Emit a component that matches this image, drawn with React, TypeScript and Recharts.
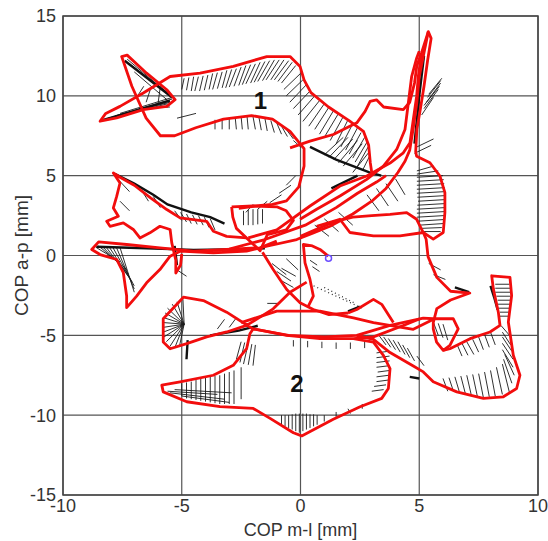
import {
  CartesianGrid,
  ComposedChart,
  Label,
  Line,
  ReferenceArea,
  ReferenceDot,
  XAxis,
  YAxis,
} from "recharts";

type Pt = [number, number];
type Seg = [number, number, number, number];

const xTicks = [-10, -5, 0, 5, 10];
const yTicks = [-15, -10, -5, 0, 5, 10, 15];

// red trajectory pieces (COP, mm)
const loopOne: Pt[] = [
  [-2.6, 2.95], [-1.9, 3.1], [-1.18, 3.2], [-0.59, 3.42], [-0.07, 4.3], [0.15, 5.6],
  [0.15, 6.69], [-0.44, 7.78], [-1.18, 8.54], [-2.06, 8.76], [-3.24, 8.54], [-4.41, 8.0],
  [-5.3, 7.5], [-5.9, 7.5], [-6.5, 8.6], [-7.1, 10.6], [-7.53, 12.46], [-7.3, 12.55],
  [-6.48, 11.42], [-5.63, 10.38], [-5.28, 9.76], [-5.63, 9.34], [-6.62, 9.14], [-7.74, 8.62],
  [-8.44, 8.41], [-8.2, 8.9], [-7.6, 9.34], [-6.62, 10.18], [-5.49, 11.21], [-4.23, 11.42],
  [-2.83, 11.84], [-1.42, 12.46], [-0.44, 12.46], [-0.02, 11.84], [0.15, 11.0], [0.44, 10.2],
  [1.18, 9.3], [2.06, 8.43], [2.65, 7.78], [2.87, 6.9], [2.94, 5.8], [3.0, 5.2],
];
const leftShape: Pt[] = [
  [-2.27, 1.1], [-3.11, 1.2], [-3.67, 1.52], [-3.95, 2.14], [-5.07, 2.36], [-5.63, 2.88],
  [-6.3, 3.6], [-7.0, 4.4], [-7.6, 4.9], [-7.88, 5.17], [-7.6, 4.54], [-7.74, 3.7],
  [-7.88, 2.98], [-7.67, 2.46], [-8.16, 2.14], [-8.02, 1.83], [-7.46, 2.04], [-7.04, 1.63],
  [-6.76, 1.1], [-6.34, 1.42], [-5.92, 1.83], [-5.49, 1.63], [-5.42, 0.79], [-5.25, -0.3],
  [-5.25, -1.1], [-5.05, -0.6], [-5.0, 0.1],
];
const leftLobe: Pt[] = [
  [-1.0, 0.9], [-1.71, 0.48], [-3.11, 0.38], [-4.51, 0.27], [-5.92, 0.48], [-7.32, 0.69],
  [-8.5, 0.85], [-8.79, 0.38], [-8.44, 0.06], [-7.74, -0.25], [-7.46, -1.08], [-7.32, -2.54],
  [-7.32, -3.27], [-6.9, -2.54], [-6.48, -1.71], [-5.92, -0.88], [-5.49, -0.04], [-5.07, 0.27],
  [-3.67, 0.17], [-2.27, 0.27], [-1.42, 0.58], [-0.16, 1.0], [0.54, 1.42], [1.24, 1.83],
  [2.2, 2.6], [3.0, 3.4], [3.6, 4.2], [4.1, 5.2], [4.4, 5.9], [4.6, 6.6], [4.75, 8.0],
  [4.9, 9.6], [5.0, 11.2], [5.2, 12.7], [5.38, 14.02],
];
const spikePath: Pt[] = [
  [-0.44, 6.74], [0.4, 7.16], [1.38, 7.58], [2.37, 8.31], [2.72, 9.03], [2.93, 9.65],
  [3.2, 9.75], [3.5, 9.3], [4.33, 9.14], [4.6, 9.6], [4.8, 10.8], [4.9, 11.9], [5.1, 12.7],
  [5.38, 14.02], [5.5, 13.6], [5.35, 12.2], [5.2, 10.6], [5.05, 9.2], [4.9, 7.9], [4.85, 6.5],
  [4.89, 6.22], [5.45, 5.81], [5.87, 4.98], [6.08, 3.94], [6.08, 2.69], [6.01, 1.44],
  [5.59, 1.03], [5.17, 1.44], [4.89, 2.27], [4.47, 2.69], [3.77, 2.58], [3.0, 2.5],
  [2.2, 2.4], [1.4, 2.1], [0.6, 1.6], [0.0, 1.2],
];
const diagOne: Pt[] = [
  [-0.02, 2.27], [0.68, 2.9], [1.66, 3.73], [2.79, 4.77], [3.49, 5.6], [4.05, 6.64],
  [4.4, 7.89], [4.54, 9.55], [4.68, 11.21], [4.89, 12.36], [5.0, 12.8],
];
const diagTwo: Pt[] = [
  [-2.2, 1.1], [-1.0, 1.6], [0.4, 3.1], [1.66, 4.35], [2.79, 4.98], [3.77, 5.79],
  [4.33, 6.43], [4.61, 7.06], [4.75, 8.52], [4.89, 9.96], [4.96, 11.21], [5.1, 12.67],
];
const diagThree: Pt[] = [
  [-3.0, 0.4], [-1.5, 1.0], [0.2, 1.9], [1.5, 3.0], [2.4, 3.9], [3.2, 4.6], [3.6, 5.0],
];
const fanBase: Pt[] = [
  [0.68, 1.83], [1.66, 2.27], [2.08, 1.44], [3.07, 1.23], [4.19, 1.23], [5.17, 1.44],
  [5.29, 1.02], [5.37, -0.07], [5.74, -1.37], [6.32, -2.24], [7.13, -2.35], [6.32, -2.79],
  [5.74, -3.33], [5.59, -4.2], [5.59, -4.59], [5.73, -5.42], [6.01, -5.94], [6.29, -5.63],
  [6.64, -4.59], [6.43, -3.96], [5.59, -3.96], [5.17, -3.92], [3.77, -4.38], [2.37, -5.0],
  [1.0, -5.1], [-0.5, -5.0], [-2.0, -4.6], [-3.11, -3.55], [-4.09, -2.82], [-4.93, -2.61],
  [-5.78, -3.96], [-5.78, -5.42], [-5.49, -5.84], [-4.79, -5.52], [-3.95, -5.1],
  [-3.11, -4.79], [-2.27, -4.38], [-1.15, -3.34], [-0.44, -2.3], [0.26, -1.67],
];
const loopTwo: Pt[] = [
  [5.03, -3.96], [4.33, -4.38], [3.07, -5.1], [2.23, -5.21], [0.82, -5.21], [-0.58, -5.0],
  [-1.99, -4.59], [-2.13, -4.9], [-2.27, -5.84], [-2.83, -6.88], [-3.67, -7.5], [-5.07, -7.91],
  [-5.84, -8.12], [-5.78, -8.54], [-4.79, -9.16], [-3.39, -9.47], [-1.99, -9.58], [-1.28, -10.2],
  [-0.3, -11.1], [0.05, -11.3], [1.38, -10.25], [2.51, -9.47], [3.42, -8.95], [3.7, -8.33],
  [3.77, -7.08], [3.49, -6.25], [3.07, -5.42], [2.23, -5.21],
];
const hookPath: Pt[] = [
  [2.37, -5.0], [3.07, -5.25], [3.77, -6.08], [4.75, -6.92], [5.17, -7.29], [5.59, -7.91],
  [6.58, -8.54], [7.7, -8.95], [8.54, -8.85], [9.1, -8.33], [9.24, -7.5], [8.96, -6.25],
  [8.75, -4.17], [8.89, -2.51], [8.82, -1.37], [8.05, -1.27], [8.12, -2.09], [8.33, -3.55],
  [8.4, -4.38], [7.98, -4.79], [7.14, -5.21], [6.29, -5.84], [6.01, -5.94],
];
const smallTri: Pt[] = [[2.0, -3.6], [2.37, -3.38], [3.07, -2.75], [3.42, -3.06], [3.91, -4.2]];
const centerLoop: Pt[] = [
  [0.33, -3.17], [0.54, -2.54], [0.4, -1.5], [0.19, -0.46], [0.12, 0.69], [0.5, 0.6],
  [0.82, 0.38], [1.17, -0.04],
];
const centerDrop: Pt[] = [
  [-1.6, 0.2], [-1.15, -0.88], [-0.58, -2.13], [-0.02, -2.96], [0.54, -3.38], [1.2, -3.7],
  [2.0, -3.6],
];
const centerBox: Pt[] = [
  [-2.9, 3.05], [-2.0, 3.1], [-1.0, 3.05], [-0.6, 2.8], [-0.3, 2.2], [-0.6, 1.6], [-1.4, 1.3],
  [-1.7, 0.3], [-2.7, 1.7], [-2.85, 2.4], [-2.9, 3.05],
];
const midLine: Pt[] = [
  [-2.5, -4.2], [-1.0, -3.48], [0.82, -3.48], [2.23, -3.9], [3.07, -4.2], [4.75, -4.62], [5.6, -4.0],
];

// black heavy COP path pieces
const blackPaths: Pt[][] = [
  [[-8.6, 0.55], [-6.5, 0.45], [-4.5, 0.35], [-2.5, 0.4], [-1.5, 0.45]],
  [[-7.8, 5.1], [-7.0, 4.5], [-6.2, 3.8], [-5.6, 3.2], [-4.6, 2.7], [-3.8, 2.4], [-3.2, 2.0]],
  [[0.4, 6.8], [1.5, 6.0], [2.9, 5.2], [3.4, 5.0]],
  [[4.8, 7.0], [5.0, 10.0], [5.2, 12.5]],
  [[-7.4, 12.2], [-5.4, 9.9]],
  [[-8.3, 8.5], [-5.5, 9.7]],
  [[8.0, -1.9], [8.15, -2.6], [8.3, -3.4]],
  [[-4.75, -5.3], [-4.8, -6.5]],
  [[4.6, -7.6], [5.0, -7.7]],
  [[6.5, -2.0], [7.1, -2.3]],
  [[-3.8, -5.0], [-2.6, -4.7], [-1.8, -4.4]],
  [[-5.3, 0.6], [-5.2, -0.6]],
  [[1.3, 4.2], [2.4, 5.0]],
  [[2.0, -3.5], [2.5, -3.2]],
];

// arrow field (start x, start y, end x, end y)
const hatchLoopOne: Seg[] = [
  [-4.9, 11.1, -5.0, 10.4], [-4.5, 11.2, -4.6, 10.3], [-4.1, 11.25, -4.25, 10.3],
  [-3.7, 11.4, -3.85, 10.4], [-3.3, 11.5, -3.5, 10.45], [-2.9, 11.65, -3.15, 10.5],
  [-2.5, 11.8, -2.8, 10.6], [-2.1, 11.95, -2.45, 10.7], [-1.7, 12.1, -2.1, 10.8],
  [-1.3, 12.2, -1.8, 10.9], [-0.9, 12.25, -1.45, 11.0], [-0.5, 12.2, -1.1, 11.0],
  [-0.2, 11.9, -0.8, 10.8], [0.1, 11.0, -0.6, 10.0], [0.4, 10.3, -0.3, 9.2],
  [0.8, 9.7, 0.1, 8.4], [1.2, 9.3, 0.6, 7.9], [1.6, 8.9, 1.0, 7.4], [2.0, 8.5, 1.5, 7.0],
  [2.4, 8.0, 1.9, 6.6], [2.7, 7.4, 2.2, 6.1], [2.85, 6.8, 2.4, 5.6], [2.9, 6.2, 2.6, 5.3],
  [-3.6, 8.5, -3.6, 7.9], [-3.0, 8.6, -3.0, 7.9], [-2.5, 8.7, -2.45, 7.9],
  [-2.0, 8.7, -1.9, 7.9], [-1.5, 8.6, -1.4, 7.8], [-1.0, 8.3, -0.8, 7.6],
  [-0.6, 7.9, -0.3, 7.3], [-0.3, 7.2, 0.0, 6.8], [-0.2, 5.0, -0.6, 4.4],
  [-0.4, 4.4, -0.9, 3.9], [-0.8, 3.8, -1.3, 3.3], [-1.4, 3.4, -1.8, 2.9], [-2.0, 3.2, -2.3, 2.7],
  [-7.2, 12.0, -5.5, 10.1], [-7.0, 11.5, -5.5, 9.6], [-8.0, 8.6, -5.6, 9.5],
  [-7.6, 8.9, -5.4, 9.9], [-6.8, 9.2, -5.5, 9.3], [-6.5, 9.6, -6.3, 10.5],
  [-6.0, 9.5, -5.9, 10.6], [-6.9, 9.9, -6.6, 10.6], [-5.2, 8.6, -4.4, 8.9],
];
const hatchLoopOneFill: Seg[] = [
  [-4.7, 11.15, -4.8, 10.35], [-4.3, 11.2, -4.45, 10.3], [-3.9, 11.3, -4.05, 10.35],
  [-3.5, 11.45, -3.7, 10.4], [-3.1, 11.6, -3.3, 10.5], [-2.7, 11.7, -3.0, 10.55],
  [-2.3, 11.9, -2.6, 10.65], [-1.9, 12.0, -2.3, 10.75], [-1.5, 12.15, -1.95, 10.85],
  [-1.1, 12.25, -1.6, 10.95], [-0.7, 12.25, -1.25, 11.0], [-0.35, 12.1, -0.95, 10.9],
  [0.0, 11.4, -0.7, 10.4], [0.25, 10.7, -0.45, 9.6], [0.6, 10.0, -0.1, 8.8],
  [1.0, 9.5, 0.35, 8.1], [1.4, 9.1, 0.8, 7.6], [1.8, 8.7, 1.25, 7.2], [2.2, 8.25, 1.7, 6.8],
  [2.55, 7.7, 2.05, 6.35], [2.8, 7.1, 2.3, 5.85], [-3.3, 8.55, -3.3, 7.9],
  [-2.75, 8.65, -2.7, 7.9], [-2.25, 8.7, -2.2, 7.9], [-1.75, 8.65, -1.65, 7.85],
  [-1.25, 8.45, -1.1, 7.7], [-0.8, 8.1, -0.55, 7.45], [-7.3, 12.3, -5.3, 9.8],
  [-8.2, 8.55, -5.4, 9.8], [-7.8, 8.75, -5.5, 9.6],
];
const hatchRight: Seg[] = [
  [6.0, 5.0, 4.9, 4.9], [6.05, 4.5, 4.9, 4.4], [6.08, 4.0, 4.9, 3.9], [6.08, 3.5, 4.95, 3.4],
  [6.08, 3.0, 4.9, 2.9], [6.05, 2.5, 4.9, 2.4], [6.0, 2.0, 5.0, 1.9], [5.9, 1.5, 5.2, 1.5],
  [5.6, 5.6, 4.9, 5.3], [3.2, 4.2, 3.7, 3.1], [3.6, 4.5, 4.1, 3.4], [4.0, 4.8, 4.4, 3.8],
  [2.8, 3.8, 3.3, 2.8], [2.6, 7.0, 1.8, 5.6], [2.2, 7.3, 1.4, 6.0], [1.8, 7.4, 1.0, 6.3],
  [2.9, 6.5, 2.2, 5.2], [5.3, 9.6, 5.9, 10.8], [5.2, 9.2, 5.8, 10.4], [5.1, 8.8, 5.6, 9.9],
  [5.4, 10.1, 5.95, 11.1], [8.2, -1.8, 8.8, -1.8], [8.2, -2.3, 8.85, -2.3],
  [8.3, -2.8, 8.85, -2.8], [8.35, -3.3, 8.8, -3.3], [8.4, -3.8, 8.8, -3.8],
  [6.0, -7.7, 6.2, -8.5], [6.5, -7.6, 6.7, -8.6], [7.0, -7.5, 7.2, -8.8], [7.5, -7.4, 7.7, -8.9],
  [8.0, -7.2, 8.2, -8.8], [8.5, -6.8, 8.8, -8.6], [8.6, -6.2, 9.0, -7.5], [8.5, -5.5, 8.95, -6.5],
  [8.5, -4.8, 8.85, -5.6], [6.6, -5.6, 6.8, -6.3], [7.0, -5.4, 7.3, -6.2], [7.5, -5.1, 7.7, -5.9],
  [8.0, -4.8, 8.2, -5.6], [3.3, -5.0, 3.6, -5.6], [3.7, -5.2, 4.0, -5.9], [4.1, -5.4, 4.4, -6.2],
  [4.5, -5.8, 4.8, -6.6], [4.9, -6.3, 5.2, -6.9], [5.6, -4.2, 5.8, -5.0], [6.0, -4.3, 6.2, -5.3],
  [5.4, -0.5, 5.9, -0.9], [5.6, -1.2, 6.1, -1.5],
];
const hatchRightFill: Seg[] = [
  [6.03, 4.75, 4.9, 4.65], [6.07, 4.25, 4.9, 4.15], [6.08, 3.75, 4.92, 3.65],
  [6.08, 3.25, 4.92, 3.15], [6.07, 2.75, 4.9, 2.65], [6.03, 2.25, 4.95, 2.15],
  [5.95, 1.75, 5.1, 1.7], [5.8, 5.3, 4.9, 5.1], [6.25, -7.65, 6.45, -8.55],
  [6.75, -7.55, 6.95, -8.7], [7.25, -7.45, 7.45, -8.85], [7.75, -7.3, 7.95, -8.85],
  [8.25, -7.0, 8.5, -8.7], [8.55, -6.5, 8.9, -8.0], [8.5, -5.9, 8.95, -7.0],
  [8.5, -5.1, 8.9, -6.0], [8.45, -4.4, 8.8, -5.0], [8.2, -2.05, 8.85, -2.05],
  [8.25, -2.55, 8.85, -2.55], [8.3, -3.05, 8.85, -3.05], [8.4, -3.55, 8.8, -3.55],
  [6.8, -5.5, 7.05, -6.25], [7.25, -5.25, 7.5, -6.05], [7.75, -4.95, 7.95, -5.75],
  [3.5, -5.1, 3.8, -5.75], [3.9, -5.3, 4.2, -6.05], [4.3, -5.6, 4.6, -6.4],
  [5.8, -4.25, 6.0, -5.15], [5.2, 9.4, 5.85, 10.6], [5.35, 9.9, 5.9, 10.95],
  [2.4, 7.2, 1.6, 5.8], [2.0, 7.4, 1.2, 6.15], [4.8, 6.4, 5.5, 6.9], [4.9, 6.8, 5.6, 7.3],
];
const hatchLoopTwo: Seg[] = [
  [3.7, -6.0, 3.2, -6.1], [3.75, -6.6, 3.2, -6.7], [3.75, -7.2, 3.25, -7.3],
  [3.7, -7.8, 3.2, -7.9], [3.5, -8.4, 3.0, -8.5], [-0.3, -5.3, -0.3, -5.7],
  [0.3, -5.35, 0.3, -5.75], [0.9, -5.4, 0.9, -5.8], [1.5, -5.45, 1.5, -5.85],
  [2.1, -5.45, 2.1, -5.85], [2.7, -5.4, 2.7, -5.8], [-0.8, -10.0, -0.8, -10.6],
  [-0.5, -10.0, -0.5, -10.8], [-0.2, -9.9, -0.2, -11.0], [0.1, -9.9, 0.1, -11.0],
  [0.4, -9.95, 0.4, -10.8], [0.7, -10.0, 0.7, -10.6], [1.0, -10.0, 1.0, -10.4],
  [1.5, -9.8, 1.5, -10.1], [2.0, -9.6, 2.1, -9.9], [2.6, -9.3, 2.6, -9.6],
  [-5.6, -8.5, -3.5, -8.7], [-5.5, -8.6, -3.2, -9.0], [-5.3, -8.4, -2.9, -8.6],
  [-5.0, -8.8, -3.0, -9.2], [-5.0, -8.0, -5.0, -8.8], [-4.6, -7.9, -4.6, -9.0],
  [-4.2, -7.7, -4.2, -9.1], [-3.8, -7.6, -3.8, -9.2], [-3.4, -7.5, -3.4, -9.3],
  [-3.0, -7.3, -3.0, -9.3], [-4.9, -4.3, -5.6, -3.3], [-4.9, -4.3, -5.75, -3.9],
  [-4.9, -4.3, -5.78, -4.5], [-4.9, -4.3, -5.75, -5.1], [-4.9, -4.3, -5.5, -5.7],
  [-4.9, -4.3, -5.2, -2.9], [-4.9, -4.3, -4.95, -2.75], [-4.9, -4.3, -5.1, -5.7],
  [-2.2, -5.5, -2.4, -6.8], [-2.5, -5.4, -2.7, -6.5], [-1.9, -5.6, -2.0, -6.9],
];
const hatchLoopTwoFill: Seg[] = [
  [-4.8, -7.95, -4.8, -8.95], [-4.4, -7.8, -4.4, -9.05], [-4.0, -7.65, -4.0, -9.15],
  [-3.6, -7.55, -3.6, -9.25], [-3.2, -7.4, -3.2, -9.3], [-2.8, -7.2, -2.8, -9.3],
  [-2.5, -7.0, -2.5, -9.0], [-0.65, -10.0, -0.65, -10.7], [-0.35, -9.95, -0.35, -10.9],
  [-0.05, -9.9, -0.05, -11.1], [0.25, -9.9, 0.25, -10.9], [0.55, -9.95, 0.55, -10.7],
  [-4.9, -4.3, -5.7, -3.6], [-4.9, -4.3, -5.78, -4.2], [-4.9, -4.3, -5.78, -4.8],
  [-4.9, -4.3, -5.65, -5.4], [-4.9, -4.3, -5.4, -3.05], [-4.9, -4.3, -5.3, -5.8],
  [3.75, -6.3, 3.2, -6.4], [3.75, -6.9, 3.2, -7.0], [3.72, -7.5, 3.2, -7.6],
  [3.6, -8.1, 3.1, -8.2], [-2.35, -5.45, -2.55, -6.7], [-2.05, -5.55, -2.2, -6.85],
];
const hatchLeft: Seg[] = [
  [-8.5, 0.6, -7.3, -0.9], [-8.2, 0.55, -7.2, -1.4], [-7.9, 0.5, -7.0, -1.9],
  [-7.6, 0.5, -7.0, -2.3], [-8.6, 0.5, -7.6, -0.4], [-5.3, 2.8, -5.0, 2.2],
  [-4.8, 2.6, -4.6, 2.0], [-4.3, 2.5, -4.1, 1.9], [-3.8, 2.3, -3.6, 1.6],
  [-7.7, 4.8, -7.2, 4.0], [-7.6, 3.4, -7.2, 2.8], [-1.2, -0.5, -0.6, -1.2],
  [-1.0, -1.0, -0.4, -1.6], [-0.9, -1.5, -0.3, -2.0], [-0.6, -0.2, -0.1, -0.9],
  [0.4, -0.3, 0.7, -0.6], [0.5, -0.7, 0.8, -1.0], [-2.4, 2.8, -2.4, 1.9],
  [-2.0, 2.9, -2.0, 1.9], [-1.6, 2.9, -1.6, 2.0], [-3.5, -4.6, -3.2, -4.0],
  [-3.0, -4.5, -2.7, -3.9], [-1.4, -3.0, -0.9, -3.0], [-5.2, -0.9, -4.8, -1.3],
  [-8.35, 0.58, -7.25, -1.15], [-8.05, 0.52, -7.1, -1.65], [-7.75, 0.5, -7.0, -2.1],
  [-5.05, 2.7, -4.8, 2.1], [-4.55, 2.55, -4.35, 1.95], [-4.05, 2.4, -3.85, 1.75],
  [-6.2, 3.7, -5.9, 3.0], [-6.7, 4.1, -6.4, 3.4], [-2.2, 2.85, -2.2, 1.9],
  [-1.8, 2.9, -1.8, 1.95], [-0.8, -0.8, -0.2, -1.3], [0.6, 1.9, 1.2, 1.2],
  [1.0, 2.3, 1.6, 1.5], [1.6, 2.7, 2.2, 1.9],
];
const dottedTrail: Seg[] = [[0.4, -1.8, 2.6, -3.3], [1.0, -2.0, 2.3, -3.0]];

const labels = [
  { x: -1.69, y: 9.74, text: "1" },
  { x: -0.15, y: -8.0, text: "2" },
];
const startPoint = { x: 1.18, y: -0.17 };

const redPaths = [
  loopOne, leftShape, leftLobe, spikePath, diagOne, diagTwo, diagThree, fanBase, loopTwo,
  hookPath, smallTri, centerLoop, centerDrop, centerBox, midLine,
];
const hatches = [
  hatchLoopOne, hatchLoopOneFill, hatchRight, hatchRightFill, hatchLoopTwo,
  hatchLoopTwoFill, hatchLeft,
];

const toPoints = (path: Pt[]) => path.map(([x, y]) => ({ x, y }));
const toSegments = (segs: Seg[]) =>
  segs.flatMap(([x1, y1, x2, y2]) => [
    { x: x1, y: y1 },
    { x: x2, y: y2 },
    { x: x2, y: null },
  ]);

const font = "Arial, 'Liberation Sans', sans-serif";

export default function App() {
  return (
    <div style={{ position: "absolute", left: 0, top: 0, background: "#fff" }}>
      <ComposedChart
        width={548}
        height={541}
        margin={{ top: 16, right: 10, bottom: 0, left: 0 }}
      >
        <CartesianGrid stroke="#555" strokeWidth={1.2} />
        <XAxis
          type="number"
          dataKey="x"
          domain={[-10, 10]}
          ticks={xTicks}
          height={46}
          tickLine={false}
          axisLine={false}
          tickSize={0}
          tickMargin={4}
          tick={{ fontSize: 18, fill: "#333", fontFamily: font }}
          allowDataOverflow
        >
          <Label
            value="COP m-l [mm]"
            position="insideBottom"
            offset={5}
            style={{ fontSize: 18, fill: "#333", fontFamily: font }}
          />
        </XAxis>
        <YAxis
          type="number"
          dataKey="y"
          domain={[-15, 15]}
          ticks={yTicks}
          width={63}
          tickLine={false}
          axisLine={false}
          tickSize={0}
          tickMargin={7}
          tick={{ fontSize: 18, fill: "#333", fontFamily: font }}
          allowDataOverflow
        >
          <Label
            value="COP a-p [mm]"
            angle={-90}
            position="insideLeft"
            offset={21}
            style={{ fontSize: 19, fill: "#333", fontFamily: font, textAnchor: "middle" }}
          />
        </YAxis>
        <ReferenceArea x1={-10} x2={10} y1={-15} y2={15} fill="none" stroke="#444" strokeWidth={1.5} />
        {hatches.map((h, i) => (
          <Line
            key={"h" + i}
            data={toSegments(h)}
            dataKey="y"
            stroke="#1a1a1a"
            strokeWidth={0.9}
            dot={false}
            type="linear"
            isAnimationActive={false}
          />
        ))}
        <Line
          data={toSegments(dottedTrail)}
          dataKey="y"
          stroke="#222"
          strokeWidth={1.2}
          strokeDasharray="1 3"
          dot={false}
          type="linear"
          isAnimationActive={false}
        />
        {blackPaths.map((p, i) => (
          <Line
            key={"b" + i}
            data={toPoints(p)}
            dataKey="y"
            stroke="#111"
            strokeWidth={2.4}
            dot={false}
            type="linear"
            isAnimationActive={false}
          />
        ))}
        {redPaths.map((p, i) => (
          <Line
            key={"r" + i}
            data={toPoints(p)}
            dataKey="y"
            stroke="#f20d0d"
            strokeWidth={2.8}
            strokeLinejoin="round"
            dot={false}
            type="linear"
            isAnimationActive={false}
          />
        ))}
        <ReferenceDot x={startPoint.x} y={startPoint.y} r={3} fill="none" stroke="#6a4cff" strokeWidth={1.5} />
        {labels.map((l) => (
          <ReferenceDot
            key={l.text}
            x={l.x}
            y={l.y}
            r={0}
            fill="none"
            stroke="none"
            label={{
              value: l.text,
              position: "center",
              style: { fontSize: 24, fontWeight: "bold", fill: "#111", fontFamily: font },
            }}
          />
        ))}
      </ComposedChart>
    </div>
  );
}
